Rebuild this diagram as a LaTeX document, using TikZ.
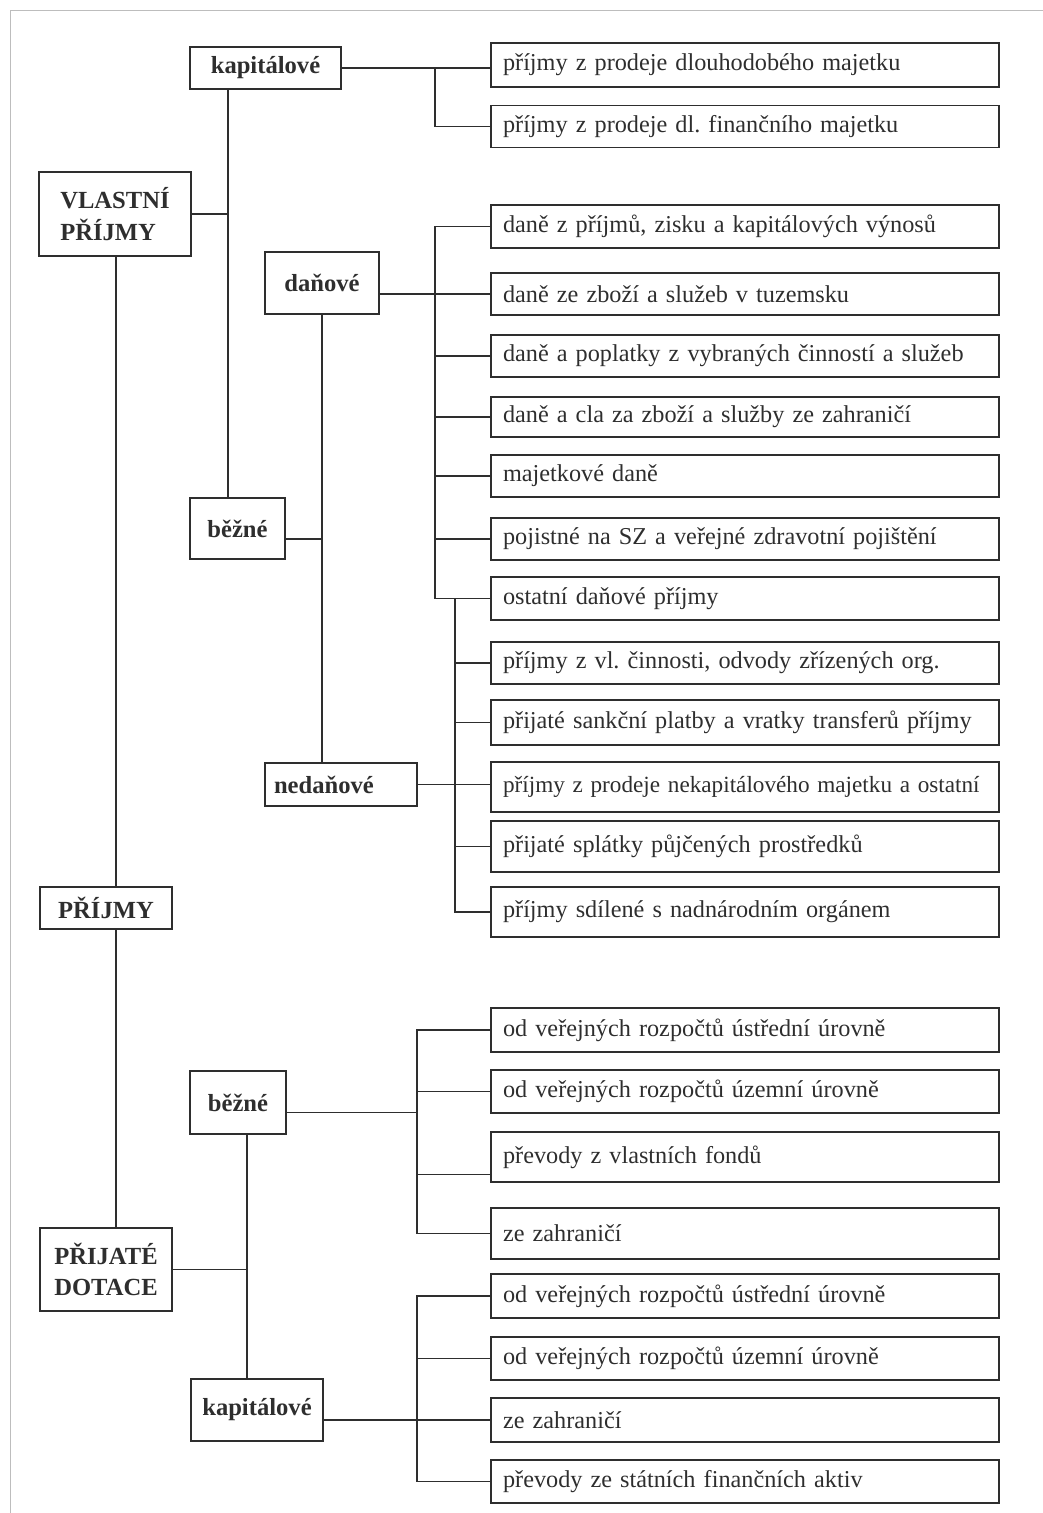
\documentclass[tikz,border=0pt]{standalone}
\usepackage{fontspec}
\setmainfont{Liberation Serif}
\usepackage{tikz}
\usetikzlibrary{positioning,calc}
\frenchspacing
\definecolor{ink}{HTML}{2E2E2E}
\definecolor{framegray}{HTML}{BDBDBD}
\tikzset{
  headbox/.style={
    rectangle, draw=ink, line width=0.7pt, text=ink,
    font=\fontsize{14}{18}\selectfont\bfseries, align=left,
    inner sep=2pt
  },
  itembox/.style={
    rectangle, draw=ink, line width=0.7pt, text=ink,
    font=\fontsize{13.8}{17}\selectfont,
    text width=9.68cm, inner xsep=0.24cm, inner ysep=1pt,
    minimum height=#1, align=left
  },
  itembox/.default=0.86cm,
  link/.style={draw=ink, line width=0.6pt},
}
\begin{document}
\begin{tikzpicture}[x=0.02cm, y=-0.02cm]
  \useasboundingbox (0,0) rectangle (1043,1513);
  % page frame (top and left edge only)
  \draw[framegray, line width=0.4pt] (10,1513) -- (10,10.5) -- (1043,10.5);

  % Left column
  \node[headbox, minimum width=3.04cm, minimum height=1.68cm] (vlastni) at (115,214) {VLASTNÍ\\PŘÍJMY};
  \node[headbox, minimum width=2.64cm, minimum height=0.84cm, align=center] (prijmy) at (106,908) {PŘÍJMY};
  \node[headbox, minimum width=2.64cm, minimum height=1.66cm] (dotace) at (106,1269.5) {PŘIJATÉ\\DOTACE};

  % Second level
  \node[headbox, minimum width=3.02cm, minimum height=0.84cm, align=center] (kapV) at (265.5,68) {kapitálové};
  \node[headbox, minimum width=1.90cm, minimum height=1.22cm, align=center] (bezV) at (237.5,528.5) {běžné};
  \node[headbox, minimum width=2.28cm, minimum height=1.24cm, align=center] (dan) at (322,283) {daňové};
  \node[headbox, text width=2.68cm, inner xsep=0.18cm, minimum height=0.86cm] (ned) at (341,784.5) {nedaňové};
  \node[headbox, minimum width=1.92cm, minimum height=1.26cm, align=center] (bezD) at (238,1102.5) {běžné};
  \node[headbox, minimum width=2.64cm, minimum height=1.24cm, align=center] (kapD) at (257,1410) {kapitálové};

  % Right column
  \node[itembox=0.88cm] (r1) at (745,65) {příjmy z prodeje dlouhodobého majetku};
  \node[itembox=0.84cm] (r2) at (745,126.5) {příjmy z prodeje dl. finančního majetku};
  \node[itembox] (r3) at (745,226.5) {daně z příjmů, zisku a kapitálových výnosů};
  \node[itembox=0.84cm] (r4) at (745,294) {daně ze zboží a služeb v tuzemsku};
  \node[itembox=0.84cm] (r5) at (745,356) {daně a poplatky z vybraných činností a služeb};
  \node[itembox=0.80cm] (r6) at (745,417) {daně a cla za zboží a služby ze zahraničí};
  \node[itembox=0.84cm] (r7) at (745,476) {majetkové daně};
  \node[itembox=0.84cm] (r8) at (745,539) {pojistné na SZ a veřejné zdravotní pojištění};
  \node[itembox] (r9) at (745,598.5) {ostatní daňové příjmy};
  \node[itembox=0.84cm] (r10) at (745,663) {příjmy z vl. činnosti, odvody zřízených org.};
  \node[itembox=0.90cm] (r11) at (745,722.5) {přijaté sankční platby a vratky transferů příjmy};
  \node[itembox=1.00cm, font=\fontsize{13.2}{17}\selectfont] (r12) at (745,787) {příjmy z prodeje nekapitálového majetku a ostatní};
  \node[itembox=1.02cm] (r13) at (745,846.5) {přijaté splátky půjčených prostředků};
  \node[itembox=1.00cm] (r14) at (745,912) {příjmy sdílené s nadnárodním orgánem};
  \node[itembox=0.88cm] (r15) at (745,1030) {od veřejných rozpočtů ústřední úrovně};
  \node[itembox] (r16) at (745,1091.5) {od veřejných rozpočtů územní úrovně};
  \node[itembox=1.00cm] (r17) at (745,1157) {převody z vlastních fondů};
  \node[itembox=1.02cm] (r18) at (745,1233.5) {ze zahraničí};
  \node[itembox=0.88cm] (r19) at (745,1296) {od veřejných rozpočtů ústřední úrovně};
  \node[itembox] (r20) at (745,1358.5) {od veřejných rozpočtů územní úrovně};
  \node[itembox=0.88cm] (r21) at (745,1420) {ze zahraničí};
  \node[itembox] (r22) at (745,1481.5) {převody ze státních finančních aktiv};

  % trunk positions
  \coordinate (spine) at (116,0);
  \coordinate (sV) at (228,0);
  \coordinate (sD) at (247,0);
  \coordinate (tA) at (435,0);
  \coordinate (tB) at (455,0);
  \coordinate (tD) at (417,0);

  % main spine
  \draw[link] (vlastni.south -| spine) -- (prijmy.north -| spine);
  \draw[link] (prijmy.south -| spine) -- (dotace.north -| spine);

  % vlastni prijmy
  \draw[link] (vlastni.east) -- (vlastni.east -| sV);
  \draw[link] (kapV.south -| sV) -- (bezV.north -| sV);
  \draw[link] (kapV.east) -- (kapV.east -| r1.west);
  \draw[link] (kapV.east -| tA) |- (r2.west);
  \draw[link] (bezV.east |- r8.west) -- (dan.south |- r8.west);
  \draw[link] (dan.south) -- (dan.south |- ned.north);

  % danove
  \draw[link] (dan.east |- r4.west) -- (r4.west);
  \draw[link] (r3.west) -| (tA |- r9.west) -- (r9.west);
  \foreach \r in {5,6,7,8} {
    \draw[link] (tA |- r\r.west) -- (r\r.west);
  }

  % nedanove
  \draw[link] (ned.east) -- (ned.east -| r12.west);
  \draw[link] (tB |- r9.west) |- (r14.west);
  \foreach \r in {10,11,13} {
    \draw[link] (tB |- r\r.west) -- (r\r.west);
  }

  % prijate dotace
  \draw[link] (dotace.east) -- (dotace.east -| sD);
  \draw[link] (bezD.south -| sD) -- (kapD.north -| sD);
  \draw[link] ([yshift=-0.2cm]bezD.east) -- ([yshift=-0.2cm]bezD.east -| tD);
  \draw[link] (r15.west) -| (tD |- r18.west) -- (r18.west);
  \draw[link] (tD |- r16.west) -- (r16.west);
  \coordinate (c17) at ([yshift=0.16cm]r17.south west);
  \draw[link] (tD |- c17) -- (c17);
  \draw[link] (kapD.east |- r21.west) -- (r21.west);
  \draw[link] (r19.west) -| (tD |- r22.west) -- (r22.west);
  \draw[link] (tD |- r20.west) -- (r20.west);
\end{tikzpicture}
\end{document}
